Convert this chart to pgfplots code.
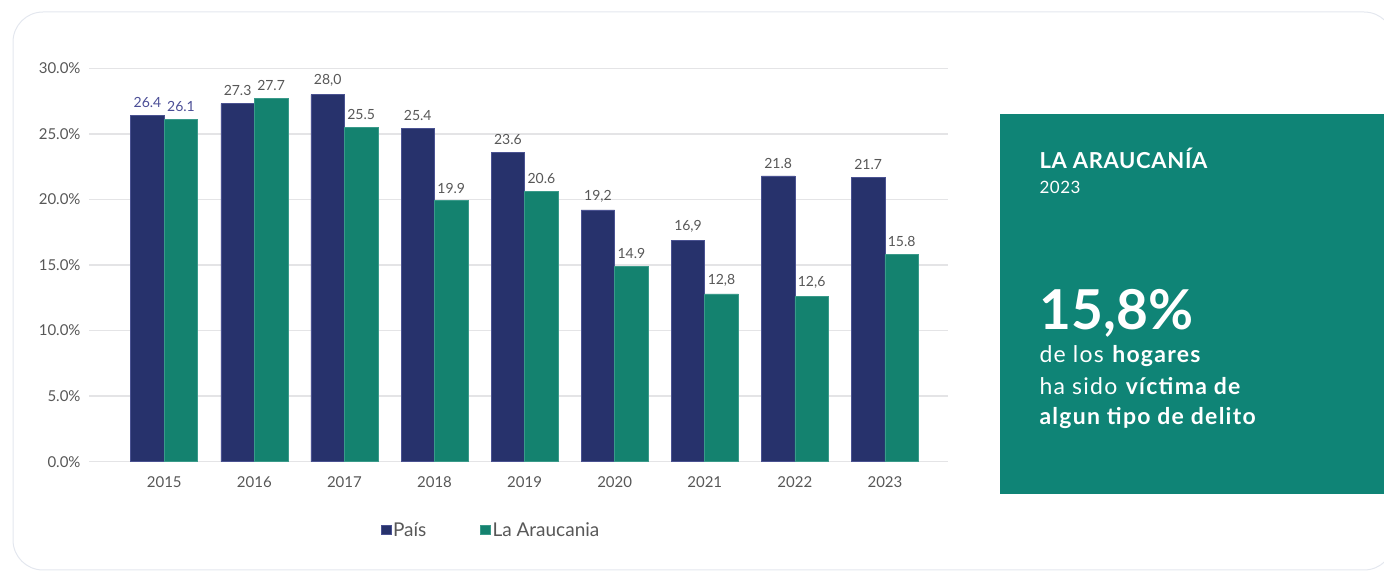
\documentclass[border=0pt]{standalone}
\usepackage{fontspec}
\setmainfont{Lato}
\newfontfamily\paneltitle{Lato}[LetterSpace=3]
\newfontfamily\panelbody{Lato}[LetterSpace=5.5]
\usepackage{pgfplots}
\usepackage{pgfplotstable}
\pgfplotsset{compat=1.18}

\definecolor{pais}{HTML}{27326C}
\definecolor{paisedge}{HTML}{4A5291}
\definecolor{arau}{HTML}{14826F}
\definecolor{arauedge}{HTML}{3A9A8A}
\definecolor{panel}{HTML}{0F8476}
\definecolor{gridc}{HTML}{E4E4E6}
\definecolor{tickc}{HTML}{575757}
\definecolor{lab15}{HTML}{4B4E96}
\definecolor{cardline}{HTML}{E3E7EE}

% year, Pais, label, La Araucania, label
\pgfplotstableread{
x pais plab arau alab
0 26.4 26.4 26.1 26.1
1 27.3 27.3 27.7 27.7
2 28.0 28,0 25.5 25.5
3 25.4 25.4 19.9 19.9
4 23.6 23.6 20.6 20.6
5 19.2 19,2 14.9 14.9
6 16.9 16,9 12.8 12,8
7 21.8 21.8 12.6 12,6
8 21.7 21.7 15.8 15.8
}\datos

\begin{document}
\begin{tikzpicture}
\useasboundingbox (0,0) rectangle (1384pt,572pt);
\draw[cardline, line width=1pt, rounded corners=30pt] (13pt,2pt) rectangle (1394pt,560pt);

\begin{axis}[
  at={(89.3pt,110.3pt)}, anchor=south west,
  scale only axis, width=858.7pt, height=393.4pt,
  xmin=-0.832, xmax=8.70, ymin=0, ymax=30,
  ybar=0pt, bar width=33.5pt,
  axis line style={draw=none},
  major tick length=0pt,
  xtick={0,...,8},
  xticklabels={2015,2016,2017,2018,2019,2020,2021,2022,2023},
  ytick={0,5,...,30},
  /pgf/number format/assume math mode=true,
  yticklabel={\pgfmathprintnumber[fixed,fixed zerofill,precision=1]{\tick}\%},
  ymajorgrids, grid style={gridc, line width=1.4pt},
  ticklabel style={font=\fontsize{15}{18}\selectfont, text=tickc},
  yticklabel style={anchor=east, inner sep=0pt, xshift=-8.6pt},
  xticklabel style={anchor=north, inner sep=0pt, yshift=-15pt},
  point meta=explicit symbolic,
  visualization depends on={\thisrow{x} \as \xv},
  nodes near coords={\ifdim\xv pt<0.5pt \color{lab15}\fi\pgfplotspointmeta},
  every node near coord/.append style={font=\fontsize{14}{16}\selectfont, text=tickc, anchor=south, yshift=4pt},
  legend style={at={(0.468,-0.1736)}, anchor=center, draw=none, fill=none,
    font=\fontsize{19}{21}\selectfont, text=tickc,
    /tikz/every even column/.append style={column sep=52pt}},
  legend columns=2,
  sqleg/.style={legend image code/.code={\fill[##1] (0pt,-4.5pt) rectangle (9.5pt,4.5pt);}},
  clip=false,
]
\addplot[fill=pais, draw=paisedge, line width=0.6pt, sqleg] table[x=x, y=pais, meta=plab] {\datos};
\addplot[fill=arau, draw=arauedge, line width=0.6pt, sqleg] table[x=x, y=arau, meta=alab] {\datos};
\legend{País, La Araucania}
\end{axis}

\fill[panel] (1000pt,78pt) rectangle (1384pt,458pt);
\begin{scope}[every node/.style={anchor=base west, inner sep=0pt, text=white}]
\node[font=\paneltitle\fontsize{22}{26}\selectfont\bfseries] at (1039.3pt,403pt) {LA ARAUCANÍA};
\node[font=\paneltitle\fontsize{17}{20}\selectfont] at (1039.3pt,378pt) {2023};
\node[font=\fontsize{55}{60}\selectfont\bfseries] at (1039.3pt,242pt) {15,8\%};
\node[font=\panelbody\fontsize{23}{26}\selectfont] at (1039.3pt,209pt) {de los \textbf{hogares}};
\node[font=\panelbody\fontsize{23}{26}\selectfont] at (1039.3pt,177pt) {ha sido \textbf{víctima de}};
\node[font=\panelbody\fontsize{23}{26}\selectfont\bfseries] at (1039.3pt,147pt) {algun tipo de delito};
\end{scope}
\end{tikzpicture}
\end{document}
